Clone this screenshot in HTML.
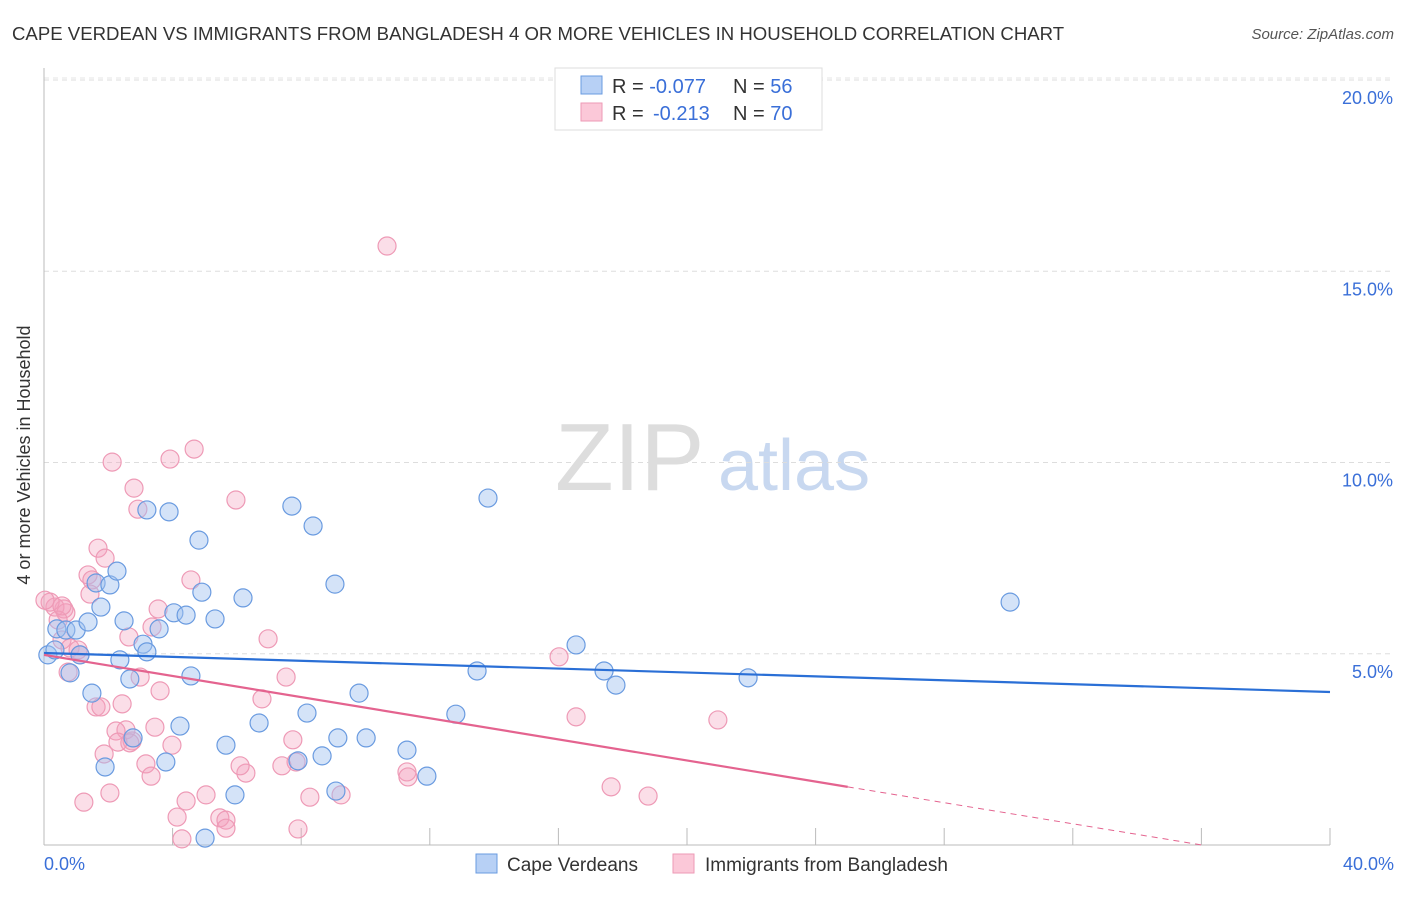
<!DOCTYPE html>
<html><head><meta charset="utf-8"><style>
body{margin:0;background:#fff;font-family:"Liberation Sans",sans-serif;}
svg text{font-family:"Liberation Sans",sans-serif;}
</style></head><body>
<svg id="chart" width="1406" height="892">
<text x="12" y="40" font-size="18.6" fill="#333">CAPE VERDEAN VS IMMIGRANTS FROM BANGLADESH 4 OR MORE VEHICLES IN HOUSEHOLD CORRELATION CHART</text>
<text x="1394" y="39" font-size="15" fill="#555" font-style="italic" text-anchor="end">Source: ZipAtlas.com</text>
<text x="555" y="490" font-size="96" fill="#ddd" font-family="Liberation Serif">ZIP</text>
<text x="718" y="490" font-size="72" fill="#c8d8f0">atlas</text>
<g id="grid"></g>
<line x1="44" y1="68" x2="44" y2="845" stroke="#bbb"/>
<line x1="44" y1="845" x2="1330" y2="845" stroke="#bbb"/>
<text x="30" y="455" font-size="18" fill="#333" transform="rotate(-90 30 455)" text-anchor="middle">4 or more Vehicles in Household</text>
<text x="44" y="870" font-size="18" fill="#3a6fd8">0.0%</text>
<text x="1394" y="870" font-size="18" fill="#3a6fd8" text-anchor="end">40.0%</text>
<g id="points"></g>
<g id="lines"></g>
<g>
<rect x="555" y="68" width="267" height="62" fill="#fff" stroke="#ddd"/>
<rect x="581" y="76" width="21" height="18" fill="#b7d0f5" stroke="#6a9be0"/>
<rect x="581" y="103" width="21" height="18" fill="#fbc8d8" stroke="#ee9ab6"/>
<text x="612" y="93" font-size="20" fill="#333">R = <tspan fill="#3a6fd8">-0.077</tspan><tspan x="733">N = </tspan><tspan fill="#3a6fd8">56</tspan></text>
<text x="612" y="120" font-size="20" fill="#333">R = <tspan fill="#3a6fd8" x="653">-0.213</tspan><tspan x="733">N = </tspan><tspan fill="#3a6fd8">70</tspan></text>
</g>
<g>
<rect x="476" y="854" width="21" height="19" fill="#b7d0f5" stroke="#6a9be0"/>
<text x="507" y="871" font-size="19" fill="#333">Cape Verdeans</text>
<rect x="673" y="854" width="21" height="19" fill="#fbc8d8" stroke="#ee9ab6"/>
<text x="705" y="871" font-size="19" fill="#333">Immigrants from Bangladesh</text>
</g>
</svg>
<script>
const yTicks=[5,10,15,20];
const blueX=[0.12,0.34,0.40,0.68,0.81,1.00,1.12,1.37,1.49,1.62,1.77,1.90,2.05,2.27,2.36,2.49,2.67,2.77,3.08,3.20,3.20,3.58,3.79,3.89,4.04,4.23,4.42,4.57,4.82,4.91,5.32,5.66,5.94,6.19,6.69,7.71,7.90,8.18,8.37,8.65,9.05,9.08,9.14,9.80,10.02,11.29,11.91,12.81,13.47,13.81,16.55,17.42,17.79,21.90,30.05,5.01];
const blueY=[4.97,5.10,5.65,5.62,4.50,5.62,4.97,5.83,3.97,6.85,6.22,2.04,6.80,7.16,4.84,5.86,4.34,2.80,5.25,8.76,5.05,5.65,2.17,8.71,6.07,3.11,6.01,4.42,7.97,6.61,5.91,2.61,1.31,6.46,3.19,8.86,2.20,3.45,8.34,2.33,6.82,1.41,2.80,3.97,2.80,2.48,1.80,3.42,4.55,9.07,5.23,4.55,4.18,4.37,6.35,0.18];
const pinkX=[10.67,4.67,3.92,2.12,2.80,5.97,2.92,1.68,1.90,1.37,4.57,1.49,1.43,0.62,3.55,0.34,0.19,3.36,6.97,2.64,0.56,0.81,1.06,1.12,0.75,2.99,7.53,3.61,6.78,2.43,1.62,1.77,3.45,2.55,2.24,16.55,20.96,7.74,2.74,3.98,1.87,3.17,7.84,6.28,7.40,3.33,11.29,11.32,16.02,1.24,2.05,4.42,5.04,8.27,9.24,17.64,18.79,4.14,5.47,5.66,5.66,7.90,4.29,0.68,0.44,0.03,6.10,2.67,2.30,0.56];
const pinkY=[15.66,10.35,10.09,10.01,9.33,9.02,8.78,7.76,7.50,7.06,6.93,6.93,6.56,6.17,6.17,6.22,6.35,5.70,5.39,5.44,5.36,5.15,5.10,4.97,4.52,4.39,4.39,4.03,3.82,3.69,3.61,3.61,3.08,3.01,2.98,3.35,3.27,2.75,2.72,2.61,2.38,2.12,2.17,1.88,2.07,1.80,1.91,1.78,4.92,1.12,1.36,1.15,1.31,1.25,1.31,1.52,1.28,0.73,0.71,0.65,0.44,0.42,0.16,6.07,5.88,6.40,2.07,2.67,2.69,6.25];
const blueTrend=[5.02,4.0];
const pinkTrend=[4.97,-0.138];
const X=v=>44+v*32.15, Y=v=>845-v*38.25;
const NS='http://www.w3.org/2000/svg';
function mk(t,a,p){const e=document.createElementNS(NS,t);for(const k in a)e.setAttribute(k,a[k]);p.appendChild(e);return e;}
const grid=document.getElementById('grid');
yTicks.forEach(t=>{
 const l=mk('line',{x1:44,x2:1394,y1:Y(t),y2:Y(t),stroke:'#ddd','stroke-dasharray':'5,4'},grid);
 
 
 const tx=mk('text',{x:1393,y:Y(t)+24,'font-size':18,fill:'#3a6fd8','text-anchor':'end'},grid);
 tx.textContent=t.toFixed(1)+'%';
 
 
});
mk('line',{x1:44,x2:1394,y1:78,y2:78,stroke:'#e6e6e6','stroke-dasharray':'5,4'},grid);
for(let i=1;i<=10;i++){const tk=mk('line',{x1:X(i*4),x2:X(i*4),y1:828,y2:845,stroke:'#bbb'},grid);
 
 }
const pts=document.getElementById('points');
pinkX.forEach((x,i)=>{const c=mk('circle',{cx:X(x),cy:Y(pinkY[i]),r:9,fill:'rgba(244,160,190,0.35)',stroke:'#ee9ab6','stroke-width':1.2},pts);
 
 });
blueX.forEach((x,i)=>{const c=mk('circle',{cx:X(x),cy:Y(blueY[i]),r:9,fill:'rgba(160,192,240,0.45)',stroke:'#6a9be0','stroke-width':1.2},pts);
 
 });
const ln=document.getElementById('lines');
const b=mk('line',{x1:X(0),y1:Y(blueTrend[0]),x2:X(40),y2:Y(blueTrend[1]),stroke:'#2a6fd6','stroke-width':2.2},ln);


const pe=n=>pinkTrend[0]+pinkTrend[1]*n;
const p=mk('line',{x1:X(0),y1:Y(pe(0)),x2:X(25),y2:Y(pe(25)),stroke:'#e4638f','stroke-width':2.2},ln);


const pd=mk('line',{x1:X(25),y1:Y(pe(25)),x2:X(36),y2:Y(pe(36)),stroke:'#e4638f','stroke-width':1,'stroke-dasharray':'6,5'},ln);


</script>
</body></html>
